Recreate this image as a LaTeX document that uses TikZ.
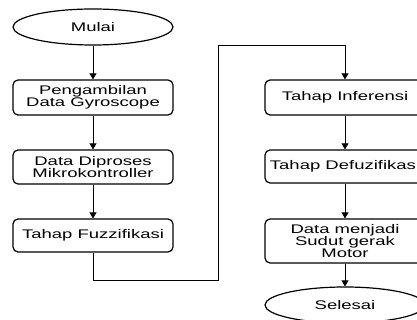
\documentclass[tikz,border=0pt]{standalone}
\usepackage{fontspec}
\newfontfamily\flowfont[FakeStretch=1.48]{Liberation Sans}
\usetikzlibrary{shapes.geometric,arrows.meta}
\tikzstyle{terminal} =[
    ellipse,
    draw,
    line width=1.2pt,
    minimum width=160pt,
    minimum height=36pt,
    inner sep=0pt,
    font=\flowfont\fontsize{12.5}{12}\selectfont
    ]
\tikzstyle{process} = [
    rectangle,
    rounded corners=5pt,
    draw,
    line width=1.2pt,
    minimum width=160pt,
    inner xsep=1pt,
    align=center,
    font=\flowfont\fontsize{12.5}{12}\selectfont
    ]
\tikzstyle{flow} = [
    draw,
    line width=0.9pt,
    -{Triangle[width=7pt,length=6pt]}
    ]

\begin{document}
\begin{tikzpicture}[x=1pt,y=-1pt]
\useasboundingbox (0,0) rectangle (417,320);
\clip (0,0) rectangle (417,320);
% left column
\node[terminal] (mulai) at (93,27) {Mulai};
\node[process, minimum height=35pt] (ambil) at (93,97.5) {Pengambilan\\Data Gyroscope};
\node[process, minimum height=34pt] (proses) at (93,167) {Data Diproses\\Mikrokontroller};
\node[process, minimum height=33pt] (fuzzi) at (93,235.5) {Tahap Fuzzifikasi};
% right column
\node[process, minimum height=35pt] (inferensi) at (345,97.5) {Tahap Inferensi};
\node[process, minimum height=33pt] (defuzi) at (345,166.5) {Tahap Defuzifikasi};
\node[process, minimum height=44pt] (motor) at (345,241) {Data menjadi\\Sudut gerak\\Motor};
\node[terminal] (selesai) at (345,305) {Selesai};
\coordinate (turnA) at (218,280);
\coordinate (turnB) at (218,45);

\draw[flow] (mulai) -- (ambil);
\draw[flow] (ambil) -- (proses);
\draw[flow] (proses) -- (fuzzi);
\draw[flow] (fuzzi) |- (turnA) -- (turnB) -| (inferensi);
\draw[flow] (inferensi) -- (defuzi);
\draw[flow] (defuzi) -- (motor);
\draw[flow] (motor) -- (selesai);
\end{tikzpicture}
\end{document}
